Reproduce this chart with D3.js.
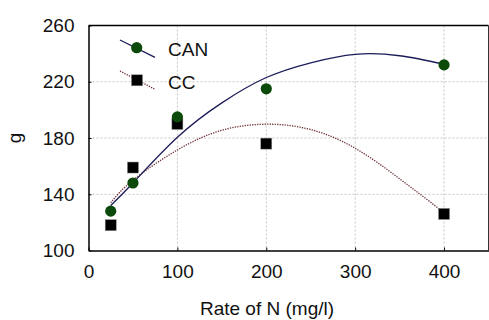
<!DOCTYPE html>
<html>
<head>
<meta charset="utf-8">
<script src="https://cdn.jsdelivr.net/npm/d3@7"></script>
<style>
  body { margin: 0; background: #fff; }
  text { font-family: Arial, "Liberation Sans", sans-serif; fill: #111; }
</style>
</head>
<body>
<div id="chart"></div>
<script>
// measured points
const rates = [25, 50, 100, 200, 400];
const canValues = [128, 148, 195, 215, 232];
const ccValues = [118, 159, 190, 176, 126];

// fitted trend curves
const curveRates = [25, 50, 100, 150, 200, 250, 300, 350, 400];
const canCurve = [132, 148, 180.5, 205, 223, 233.5, 239.5, 238.5, 232.5];
const ccCurve = [134, 150, 171.5, 185.5, 189.8, 186, 172.7, 151, 127];

const xTicks = [0, 100, 200, 300, 400];
const yTicks = [100, 140, 180, 220, 260];

const W = 489, H = 320;
const margin = {top: 25.5, right: 0.5, bottom: 69.5, left: 88.5};
const width = W - margin.left - margin.right,
    height = H - margin.top - margin.bottom;

const svg = d3.select("#chart")
    .append("svg")
    .attr("width", W)
    .attr("height", H);

const g = svg.append("g")
    .attr("transform", `translate(${margin.left},${margin.top})`);

const x = d3.scaleLinear().domain([0, 450]).range([0, width]);
const y = d3.scaleLinear().domain([100, 260]).range([height, 0]);

// grid
g.append("g").selectAll("line")
    .data(xTicks.filter(d => d > 0))
    .join("line")
    .attr("x1", d => x(d)).attr("x2", d => x(d))
    .attr("y1", 0).attr("y2", height)
    .attr("stroke", "#c4c4c4")
    .attr("stroke-dasharray", "2,2");
g.append("g").selectAll("line")
    .data(yTicks.filter(d => d > 100 && d < 260))
    .join("line")
    .attr("x1", 0).attr("x2", width)
    .attr("y1", d => y(d)).attr("y2", d => y(d))
    .attr("stroke", "#c4c4c4")
    .attr("stroke-dasharray", "2,2");

// axes
const xAxis = g.append("g")
    .attr("transform", `translate(0,${height})`)
    .call(d3.axisBottom(x).tickValues(xTicks).tickSizeInner(-3).tickSizeOuter(0).tickPadding(14));
const yAxis = g.append("g")
    .call(d3.axisLeft(y).tickValues(yTicks).tickSizeInner(-3).tickSizeOuter(0).tickPadding(14));
[xAxis, yAxis].forEach(a => {
    a.selectAll("text").style("font-size", "19px").attr("fill", "#111");
    a.selectAll("line, path").attr("stroke", "#000");
});
xAxis.select(".domain").attr("stroke-width", 1.5);
yAxis.select(".domain").attr("stroke-width", 1.5);

// frame top and right
g.append("line").attr("x1", 0).attr("x2", width).attr("y1", 0).attr("y2", 0)
    .attr("stroke", "#000").attr("stroke-width", 1.5);
g.append("line").attr("x1", width).attr("x2", width).attr("y1", 0).attr("y2", height)
    .attr("stroke", "#333");

// trend lines
const line = d3.line()
    .x((d, i) => x(curveRates[i]))
    .y(d => y(d))
    .curve(d3.curveNatural);

g.append("path")
    .datum(ccCurve)
    .attr("fill", "none")
    .attr("stroke", "#6e2f35")
    .attr("stroke-width", 1.3)
    .attr("stroke-dasharray", "1.3,1.2")
    .attr("d", line);

g.append("path")
    .datum(canCurve)
    .attr("fill", "none")
    .attr("stroke", "#1c1c5a")
    .attr("stroke-width", 1.3)
    .attr("d", line);

// markers
g.append("g").selectAll("rect")
    .data(ccValues)
    .join("rect")
    .attr("x", (d, i) => x(rates[i]) - 5.5)
    .attr("y", d => y(d) - 5.5)
    .attr("width", 11).attr("height", 11)
    .attr("fill", "#000")
    .attr("stroke", "#888")
    .attr("stroke-width", 0.5);

g.append("g").selectAll("circle")
    .data(canValues)
    .join("circle")
    .attr("cx", (d, i) => x(rates[i]))
    .attr("cy", d => y(d))
    .attr("r", 5.6)
    .attr("fill", "#0b4a0b");

// legend
const legend = svg.append("g");
legend.append("line").attr("x1", 120).attr("y1", 40).attr("x2", 155).attr("y2", 57.3)
    .attr("stroke", "#1c1c5a").attr("stroke-width", 1.3);
legend.append("circle").attr("cx", 136.7).attr("cy", 47.7).attr("r", 5.6).attr("fill", "#0b4a0b");
legend.append("text").attr("x", 168).attr("y", 56).style("font-size", "19px").text("CAN");

legend.append("line").attr("x1", 120).attr("y1", 71).attr("x2", 155).attr("y2", 89.3)
    .attr("stroke", "#6e2f35").attr("stroke-width", 1.3).attr("stroke-dasharray", "1.3,1.2");
legend.append("rect").attr("x", 131.5).attr("y", 74.8).attr("width", 11).attr("height", 11)
    .attr("fill", "#000").attr("stroke", "#888").attr("stroke-width", 0.5);
legend.append("text").attr("x", 168).attr("y", 89.3).style("font-size", "19px").text("CC");

// axis titles
svg.append("text")
    .attr("text-anchor", "middle")
    .attr("x", 267)
    .attr("y", 315)
    .style("font-size", "19px")
    .text("Rate of N (mg/l)");

svg.append("text")
    .attr("text-anchor", "middle")
    .attr("transform", "translate(21,138) rotate(-90)")
    .style("font-size", "19px")
    .text("g");
</script>
</body>
</html>
